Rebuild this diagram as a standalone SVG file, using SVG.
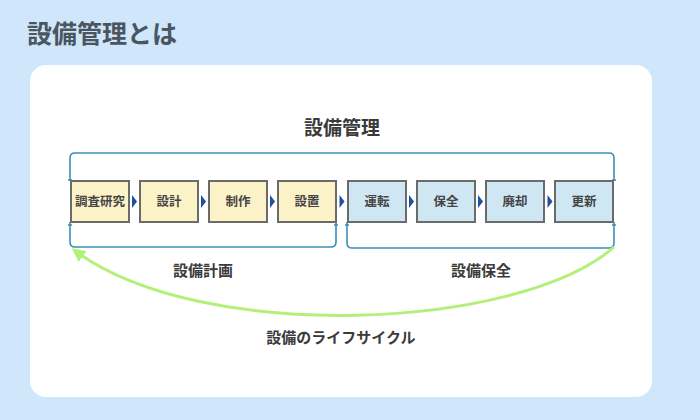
<svg xmlns="http://www.w3.org/2000/svg" width="700" height="420" viewBox="0 0 700 420">
<defs>
<style>
text{font-family:"Noto Sans CJK JP","Noto Sans",sans-serif;font-weight:bold;text-anchor:middle;}
.title{font-size:25px;fill:#4a5560;text-anchor:start;}
.lbl{font-size:15px;fill:#3a3a3a;}
.big{font-size:19px;fill:#3a3a3a;}
.bt{font-size:12.5px;fill:#454545;}
.y{fill:#fcf2c8;stroke:#6b6b6b;stroke-width:2;}
.b{fill:#cfe7f3;stroke:#6b6b6b;stroke-width:2;}
.br{fill:none;stroke:#3d8fb5;stroke-width:1.6;}
.tri{fill:#1f4f9f;}
.green{fill:none;stroke:#b3f07a;stroke-width:3;}
</style>
<marker id="ah" viewBox="0 0 10 10" refX="8" refY="5" markerWidth="4.5" markerHeight="4.5" orient="auto" markerUnits="strokeWidth">
<path d="M0,0 L10,5 L0,10 z" fill="#b3f07a"/>
</marker>
</defs>
<rect x="0" y="0" width="700" height="420" fill="#cfe6fb"/>
<rect x="30" y="65" width="622" height="332" rx="16" fill="#ffffff"/>
<text class="title" x="27" y="43">設備管理とは</text>
<text class="big" x="342" y="135">設備管理</text>

<g id="connectors">
<path class="br" d="M70,181 V158 Q70,153 75,153 H609 Q614,153 614,158 V181"/>
<path class="br" d="M70,222 V242 Q70,247 75,247 H331 Q336,247 336,242 V222"/>
<path class="br" d="M347,222 V243 Q347,248 352,248 H609 Q614,248 614,243 V222"/>
<path class="br" d="M68,180 H72 M68,225 H72 M334,225 H338 M345,225 H349 M612,180 H616 M612,225 H616"/>
<path class="green" d="M614,247 C520,330 200,345 74,250" marker-end="url(#ah)"/>
<polygon class="tri" points="132,195 137,201.5 132,208"/>
<polygon class="tri" points="201,195 206,201.5 201,208"/>
<polygon class="tri" points="270,195 275,201.5 270,208"/>
<polygon class="tri" points="339.5,195 344.5,201.5 339.5,208"/>
<polygon class="tri" points="409,195 414,201.5 409,208"/>
<polygon class="tri" points="478,195 483,201.5 478,208"/>
<polygon class="tri" points="547.5,195 552.5,201.5 547.5,208"/>
</g>

<g id="n1"><rect class="y" x="71" y="181" width="58" height="41"/><text class="bt" x="100" y="206">調査研究</text></g>
<g id="n2"><rect class="y" x="140" y="181" width="58" height="41"/><text class="bt" x="169" y="206">設計</text></g>
<g id="n3"><rect class="y" x="209" y="181" width="58" height="41"/><text class="bt" x="238" y="206">制作</text></g>
<g id="n4"><rect class="y" x="278" y="181" width="58" height="41"/><text class="bt" x="307" y="206">設置</text></g>
<g id="n5"><rect class="b" x="348" y="181" width="58" height="41"/><text class="bt" x="377" y="206">運転</text></g>
<g id="n6"><rect class="b" x="417" y="181" width="58" height="41"/><text class="bt" x="446" y="206">保全</text></g>
<g id="n7"><rect class="b" x="486" y="181" width="58" height="41"/><text class="bt" x="515" y="206">廃却</text></g>
<g id="n8"><rect class="b" x="555" y="181" width="58" height="41"/><text class="bt" x="584" y="206">更新</text></g>

<text class="lbl" x="203" y="276">設備計画</text>
<text class="lbl" x="481" y="276">設備保全</text>
<text class="lbl" x="341" y="343">設備のライフサイクル</text>
</svg>
